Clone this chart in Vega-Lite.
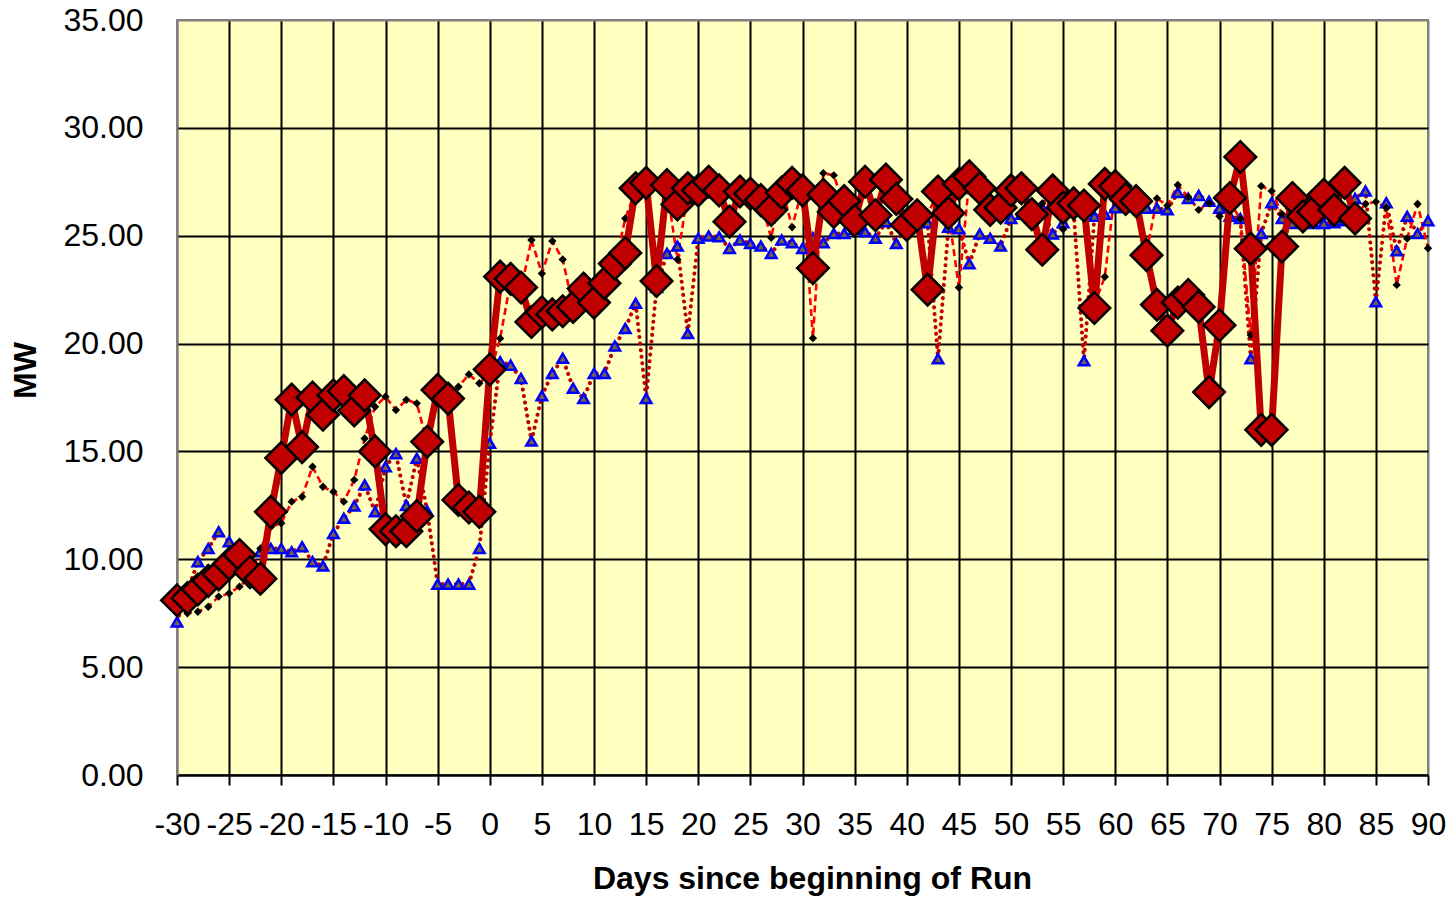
{
  "$schema": "https://vega.github.io/schema/vega-lite/v6.json",
  "autosize": {"type": "none"},
  "padding": {"left": 177, "top": 20, "right": 24, "bottom": 125},
  "width": 1251,
  "height": 755,
  "background": "#FFFFFF",
  "config": {
    "view": {"fill": "#FFFFC0", "stroke": "#808080", "strokeWidth": 2},
    "font": "Liberation Sans"
  },
  "datasets": {
    "red": [
      {"day": -30, "mw": 8.1}, {"day": -29, "mw": 8.2}, {"day": -28, "mw": 8.6}, {"day": -27, "mw": 9.0}, {"day": -26, "mw": 9.3},
      {"day": -25, "mw": 9.8}, {"day": -24, "mw": 10.2}, {"day": -23, "mw": 9.4}, {"day": -22, "mw": 9.1}, {"day": -21, "mw": 12.2},
      {"day": -20, "mw": 14.7}, {"day": -19, "mw": 17.4}, {"day": -18, "mw": 15.2}, {"day": -17, "mw": 17.5}, {"day": -16, "mw": 16.7},
      {"day": -15, "mw": 17.6}, {"day": -14, "mw": 17.8}, {"day": -13, "mw": 16.9}, {"day": -12, "mw": 17.6}, {"day": -11, "mw": 15.0},
      {"day": -10, "mw": 11.4}, {"day": -9, "mw": 11.3}, {"day": -8, "mw": 11.3}, {"day": -7, "mw": 12.0}, {"day": -6, "mw": 15.45},
      {"day": -5, "mw": 17.85}, {"day": -4, "mw": 17.45}, {"day": -3, "mw": 12.75}, {"day": -2, "mw": 12.4}, {"day": -1, "mw": 12.2},
      {"day": 0, "mw": 18.8}, {"day": 1, "mw": 23.1}, {"day": 2, "mw": 23.0}, {"day": 3, "mw": 22.6}, {"day": 4, "mw": 21.0},
      {"day": 5, "mw": 21.45}, {"day": 6, "mw": 21.35}, {"day": 7, "mw": 21.5}, {"day": 8, "mw": 21.7}, {"day": 9, "mw": 22.55},
      {"day": 10, "mw": 21.9}, {"day": 11, "mw": 22.8}, {"day": 12, "mw": 23.7}, {"day": 13, "mw": 24.2}, {"day": 14, "mw": 27.2},
      {"day": 15, "mw": 27.45}, {"day": 16, "mw": 22.9}, {"day": 17, "mw": 27.35}, {"day": 18, "mw": 26.45}, {"day": 19, "mw": 27.2},
      {"day": 20, "mw": 27.1}, {"day": 21, "mw": 27.5}, {"day": 22, "mw": 27.1}, {"day": 23, "mw": 25.65}, {"day": 24, "mw": 27.05},
      {"day": 25, "mw": 26.95}, {"day": 26, "mw": 26.65}, {"day": 27, "mw": 26.2}, {"day": 28, "mw": 27.0}, {"day": 29, "mw": 27.45},
      {"day": 30, "mw": 27.1}, {"day": 31, "mw": 23.5}, {"day": 32, "mw": 26.9}, {"day": 33, "mw": 26.1}, {"day": 34, "mw": 26.6},
      {"day": 35, "mw": 25.7}, {"day": 36, "mw": 27.5}, {"day": 37, "mw": 25.95}, {"day": 38, "mw": 27.6}, {"day": 39, "mw": 26.7},
      {"day": 40, "mw": 25.5}, {"day": 41, "mw": 25.95}, {"day": 42, "mw": 22.5}, {"day": 43, "mw": 27.05}, {"day": 44, "mw": 26.05},
      {"day": 45, "mw": 27.4}, {"day": 46, "mw": 27.75}, {"day": 47, "mw": 27.2}, {"day": 48, "mw": 26.2}, {"day": 49, "mw": 26.3},
      {"day": 50, "mw": 27.1}, {"day": 51, "mw": 27.2}, {"day": 52, "mw": 26.0}, {"day": 53, "mw": 24.35}, {"day": 54, "mw": 27.1},
      {"day": 55, "mw": 26.3}, {"day": 56, "mw": 26.5}, {"day": 57, "mw": 26.4}, {"day": 58, "mw": 21.65}, {"day": 59, "mw": 27.4},
      {"day": 60, "mw": 27.3}, {"day": 61, "mw": 26.7}, {"day": 62, "mw": 26.6}, {"day": 63, "mw": 24.1}, {"day": 64, "mw": 21.8},
      {"day": 65, "mw": 20.6}, {"day": 66, "mw": 21.9}, {"day": 67, "mw": 22.25}, {"day": 68, "mw": 21.7}, {"day": 69, "mw": 17.75},
      {"day": 70, "mw": 20.85}, {"day": 71, "mw": 26.75}, {"day": 72, "mw": 28.65}, {"day": 73, "mw": 24.4}, {"day": 74, "mw": 16.0},
      {"day": 75, "mw": 16.0}, {"day": 76, "mw": 24.5}, {"day": 77, "mw": 26.75}, {"day": 78, "mw": 25.9}, {"day": 79, "mw": 26.1},
      {"day": 80, "mw": 26.9}, {"day": 81, "mw": 26.2}, {"day": 82, "mw": 27.45}, {"day": 83, "mw": 25.8}
    ],
    "black": [
      {"day": -30, "mw": 7.9}, {"day": -29, "mw": 7.5}, {"day": -28, "mw": 7.57}, {"day": -27, "mw": 7.8}, {"day": -26, "mw": 8.27},
      {"day": -25, "mw": 8.42}, {"day": -24, "mw": 8.73}, {"day": -23, "mw": 9.2}, {"day": -22, "mw": 10.5}, {"day": -21, "mw": 11.5},
      {"day": -20, "mw": 11.67}, {"day": -19, "mw": 12.67}, {"day": -18, "mw": 12.9}, {"day": -17, "mw": 14.29}, {"day": -16, "mw": 13.36},
      {"day": -15, "mw": 13.13}, {"day": -14, "mw": 12.67}, {"day": -13, "mw": 13.68}, {"day": -12, "mw": 15.6}, {"day": -11, "mw": 17.07},
      {"day": -10, "mw": 17.54}, {"day": -9, "mw": 16.92}, {"day": -8, "mw": 17.39}, {"day": -7, "mw": 17.23}, {"day": -6, "mw": 15.4},
      {"day": -5, "mw": 17.8}, {"day": -4, "mw": 17.6}, {"day": -3, "mw": 18.0}, {"day": -2, "mw": 18.57}, {"day": -1, "mw": 18.16},
      {"day": 0, "mw": 18.6}, {"day": 1, "mw": 20.24}, {"day": 2, "mw": 22.9}, {"day": 3, "mw": 22.5}, {"day": 4, "mw": 24.8},
      {"day": 5, "mw": 23.25}, {"day": 6, "mw": 24.75}, {"day": 7, "mw": 23.9}, {"day": 8, "mw": 21.7}, {"day": 9, "mw": 22.4},
      {"day": 10, "mw": 21.9}, {"day": 11, "mw": 22.8}, {"day": 12, "mw": 23.6}, {"day": 13, "mw": 25.8}, {"day": 14, "mw": 27.1},
      {"day": 15, "mw": 27.3}, {"day": 16, "mw": 22.7}, {"day": 17, "mw": 27.2}, {"day": 18, "mw": 23.9}, {"day": 19, "mw": 27.0},
      {"day": 20, "mw": 27.2}, {"day": 21, "mw": 27.3}, {"day": 22, "mw": 27.0}, {"day": 23, "mw": 25.6}, {"day": 24, "mw": 27.0},
      {"day": 25, "mw": 26.8}, {"day": 26, "mw": 26.6}, {"day": 27, "mw": 24.9}, {"day": 28, "mw": 27.3}, {"day": 29, "mw": 25.4},
      {"day": 30, "mw": 27.2}, {"day": 31, "mw": 20.25}, {"day": 32, "mw": 27.9}, {"day": 33, "mw": 27.8}, {"day": 34, "mw": 26.4},
      {"day": 35, "mw": 25.6}, {"day": 36, "mw": 27.4}, {"day": 37, "mw": 26.0}, {"day": 38, "mw": 27.5}, {"day": 39, "mw": 26.6},
      {"day": 40, "mw": 25.6}, {"day": 41, "mw": 26.0}, {"day": 42, "mw": 26.0}, {"day": 43, "mw": 27.0}, {"day": 44, "mw": 26.1},
      {"day": 45, "mw": 22.6}, {"day": 46, "mw": 27.6}, {"day": 47, "mw": 27.1}, {"day": 48, "mw": 26.3}, {"day": 49, "mw": 26.2},
      {"day": 50, "mw": 27.0}, {"day": 51, "mw": 27.1}, {"day": 52, "mw": 26.0}, {"day": 53, "mw": 26.5}, {"day": 54, "mw": 27.0},
      {"day": 55, "mw": 25.3}, {"day": 56, "mw": 26.4}, {"day": 57, "mw": 26.3}, {"day": 58, "mw": 21.8}, {"day": 59, "mw": 23.1},
      {"day": 60, "mw": 27.2}, {"day": 61, "mw": 26.7}, {"day": 62, "mw": 26.5}, {"day": 63, "mw": 24.2}, {"day": 64, "mw": 26.73},
      {"day": 65, "mw": 26.4}, {"day": 66, "mw": 27.35}, {"day": 67, "mw": 26.8}, {"day": 68, "mw": 26.2}, {"day": 69, "mw": 26.5},
      {"day": 70, "mw": 25.9}, {"day": 71, "mw": 26.5}, {"day": 72, "mw": 25.8}, {"day": 73, "mw": 20.4}, {"day": 74, "mw": 27.3},
      {"day": 75, "mw": 27.07}, {"day": 76, "mw": 26.0}, {"day": 77, "mw": 26.6}, {"day": 78, "mw": 25.9}, {"day": 79, "mw": 26.1},
      {"day": 80, "mw": 26.8}, {"day": 81, "mw": 26.2}, {"day": 82, "mw": 27.3}, {"day": 83, "mw": 25.9}, {"day": 84, "mw": 26.47},
      {"day": 85, "mw": 26.57}, {"day": 86, "mw": 26.3}, {"day": 87, "mw": 22.72}, {"day": 88, "mw": 24.87}, {"day": 89, "mw": 26.47},
      {"day": 90, "mw": 24.42}
    ],
    "blue": [
      {"day": -30, "mw": 7.1}, {"day": -29, "mw": 8.5}, {"day": -28, "mw": 9.89}, {"day": -27, "mw": 10.5}, {"day": -26, "mw": 11.28},
      {"day": -25, "mw": 10.82}, {"day": -24, "mw": 10.2}, {"day": -23, "mw": 10.0}, {"day": -22, "mw": 10.35}, {"day": -21, "mw": 10.5},
      {"day": -20, "mw": 10.5}, {"day": -19, "mw": 10.35}, {"day": -18, "mw": 10.58}, {"day": -17, "mw": 9.89}, {"day": -16, "mw": 9.69},
      {"day": -15, "mw": 11.2}, {"day": -14, "mw": 11.9}, {"day": -13, "mw": 12.47}, {"day": -12, "mw": 13.45}, {"day": -11, "mw": 12.2},
      {"day": -10, "mw": 14.29}, {"day": -9, "mw": 14.9}, {"day": -8, "mw": 12.5}, {"day": -7, "mw": 14.68}, {"day": -6, "mw": 12.24},
      {"day": -5, "mw": 8.85}, {"day": -4, "mw": 8.85}, {"day": -3, "mw": 8.85}, {"day": -2, "mw": 8.85}, {"day": -1, "mw": 10.5},
      {"day": 0, "mw": 15.38}, {"day": 1, "mw": 19.16}, {"day": 2, "mw": 19.0}, {"day": 3, "mw": 18.38}, {"day": 4, "mw": 15.48},
      {"day": 5, "mw": 17.58}, {"day": 6, "mw": 18.62}, {"day": 7, "mw": 19.32}, {"day": 8, "mw": 17.93}, {"day": 9, "mw": 17.46},
      {"day": 10, "mw": 18.62}, {"day": 11, "mw": 18.62}, {"day": 12, "mw": 19.89}, {"day": 13, "mw": 20.7}, {"day": 14, "mw": 21.87},
      {"day": 15, "mw": 17.46}, {"day": 16, "mw": 22.6}, {"day": 17, "mw": 24.18}, {"day": 18, "mw": 24.52}, {"day": 19, "mw": 20.47},
      {"day": 20, "mw": 24.88}, {"day": 21, "mw": 24.99}, {"day": 22, "mw": 24.95}, {"day": 23, "mw": 24.41}, {"day": 24, "mw": 24.8},
      {"day": 25, "mw": 24.64}, {"day": 26, "mw": 24.52}, {"day": 27, "mw": 24.18}, {"day": 28, "mw": 24.8}, {"day": 29, "mw": 24.67},
      {"day": 30, "mw": 24.41}, {"day": 31, "mw": 24.9}, {"day": 32, "mw": 24.67}, {"day": 33, "mw": 25.1}, {"day": 34, "mw": 25.1},
      {"day": 35, "mw": 25.3}, {"day": 36, "mw": 25.18}, {"day": 37, "mw": 24.88}, {"day": 38, "mw": 25.65}, {"day": 39, "mw": 24.64},
      {"day": 40, "mw": 25.5}, {"day": 41, "mw": 25.6}, {"day": 42, "mw": 25.6}, {"day": 43, "mw": 19.3}, {"day": 44, "mw": 25.4},
      {"day": 45, "mw": 25.33}, {"day": 46, "mw": 23.7}, {"day": 47, "mw": 25.08}, {"day": 48, "mw": 24.88}, {"day": 49, "mw": 24.52},
      {"day": 50, "mw": 25.8}, {"day": 51, "mw": 26.0}, {"day": 52, "mw": 25.9}, {"day": 53, "mw": 26.3}, {"day": 54, "mw": 25.08},
      {"day": 55, "mw": 25.6}, {"day": 56, "mw": 26.2}, {"day": 57, "mw": 19.2}, {"day": 58, "mw": 25.9}, {"day": 59, "mw": 26.0},
      {"day": 60, "mw": 26.3}, {"day": 61, "mw": 26.4}, {"day": 62, "mw": 26.5}, {"day": 63, "mw": 26.27}, {"day": 64, "mw": 26.27},
      {"day": 65, "mw": 26.2}, {"day": 66, "mw": 27.0}, {"day": 67, "mw": 26.73}, {"day": 68, "mw": 26.87}, {"day": 69, "mw": 26.6},
      {"day": 70, "mw": 26.27}, {"day": 71, "mw": 25.9}, {"day": 72, "mw": 25.8}, {"day": 73, "mw": 19.3}, {"day": 74, "mw": 25.1},
      {"day": 75, "mw": 26.53}, {"day": 76, "mw": 25.8}, {"day": 77, "mw": 25.57}, {"day": 78, "mw": 25.6}, {"day": 79, "mw": 25.57},
      {"day": 80, "mw": 25.57}, {"day": 81, "mw": 25.6}, {"day": 82, "mw": 25.7}, {"day": 83, "mw": 26.73}, {"day": 84, "mw": 27.07},
      {"day": 85, "mw": 21.94}, {"day": 86, "mw": 26.53}, {"day": 87, "mw": 24.3}, {"day": 88, "mw": 25.9}, {"day": 89, "mw": 25.1},
      {"day": 90, "mw": 25.7}
    ]
  },
  "encoding": {
    "x": {
      "field": "day", "type": "quantitative",
      "scale": {"domain": [-30, 90], "nice": false, "zero": false},
      "axis": {
        "values": [-30, -25, -20, -15, -10, -5, 0, 5, 10, 15, 20, 25, 30, 35, 40, 45, 50, 55, 60, 65, 70, 75, 80, 85, 90],
        "labelExpr": "'' + datum.value",
        "grid": true,
        "gridColor": {"condition": {"test": "datum.value === -30 || datum.value === 90", "value": "#808080"}, "value": "#000000"},
        "gridWidth": 2,
        "domainColor": "#000000", "domainWidth": 2,
        "ticks": true, "tickColor": "#000000", "tickWidth": 2, "tickSize": 10,
        "labelFont": "Liberation Sans", "labelFontSize": 32, "labelColor": "#000000",
        "labelPadding": 24, "labelFlush": false, "labelOverlap": false,
        "title": "Days since beginning of Run",
        "titleFont": "Liberation Sans", "titleFontSize": 32, "titleFontWeight": "bold", "titleColor": "#000000",
        "titlePadding": 23, "titleX": 635
      }
    },
    "y": {
      "field": "mw", "type": "quantitative",
      "scale": {"domain": [0, 35], "nice": false, "zero": true},
      "axis": {
        "values": [0, 5, 10, 15, 20, 25, 30, 35],
        "format": ".2f",
        "grid": true,
        "gridColor": {"condition": {"test": "datum.value === 35", "value": "#808080"}, "value": "#000000"},
        "gridWidth": 2,
        "domainColor": "#808080", "domainWidth": 2,
        "ticks": false,
        "labelFont": "Liberation Sans", "labelFontSize": 32, "labelColor": "#000000",
        "labelPadding": 34, "labelFlush": false, "labelOverlap": false,
        "title": "MW",
        "titleFont": "Liberation Sans", "titleFontSize": 32, "titleFontWeight": "bold", "titleColor": "#000000",
        "titleX": -152, "titleY": 350, "titleBaseline": "middle", "titleAngle": -90, "titleAlign": "center"
      }
    }
  },
  "layer": [
    {
      "data": {"name": "blue"},
      "mark": {"type": "line", "color": "#C00000", "strokeWidth": 4, "strokeDash": [0.1, 6.5], "strokeCap": "round"}
    },
    {
      "data": {"name": "black"},
      "mark": {"type": "line", "color": "#FF0000", "strokeWidth": 2.6, "strokeDash": [7, 4]}
    },
    {
      "data": {"name": "blue"},
      "mark": {"type": "point", "shape": "triangle-up", "filled": true, "fill": "#7A6240", "stroke": "#0000FF", "strokeWidth": 2.5, "size": 110, "opacity": 1}
    },
    {
      "data": {"name": "black"},
      "mark": {"type": "point", "shape": "diamond", "filled": true, "fill": "#000000", "size": 70, "opacity": 1}
    },
    {
      "data": {"name": "red"},
      "mark": {"type": "line", "color": "#C00000", "strokeWidth": 7}
    },
    {
      "data": {"name": "red"},
      "mark": {"type": "point", "shape": "diamond", "filled": true, "fill": "#C00000", "stroke": "#000000", "strokeWidth": 2.5, "size": 1000, "opacity": 1}
    }
  ]
}
